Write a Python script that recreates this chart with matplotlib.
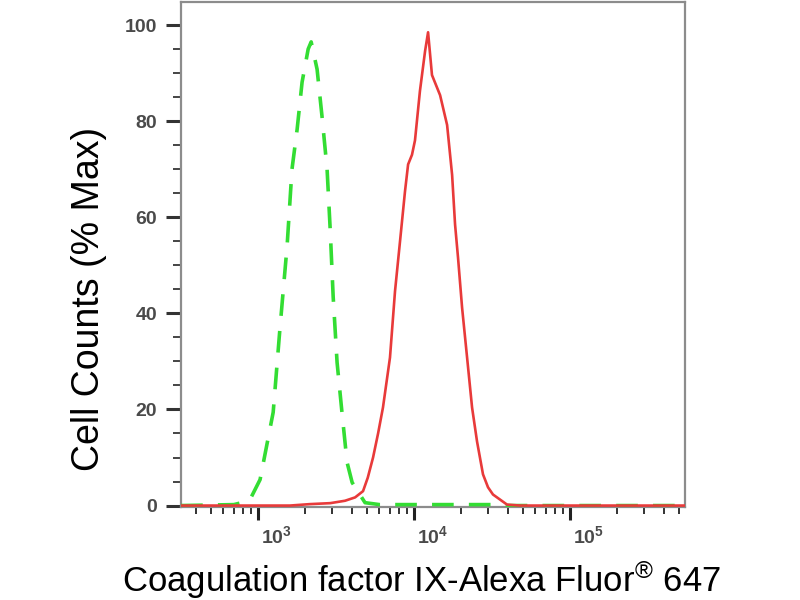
import matplotlib
matplotlib.use("Agg")
import matplotlib.pyplot as plt
import matplotlib.transforms as mtransforms
from matplotlib.ticker import LogLocator, NullFormatter, LogFormatterMathtext, MultipleLocator

plt.rcParams['font.family'] = ['Liberation Sans', 'DejaVu Sans']
plt.rcParams['mathtext.fontset'] = 'custom'
plt.rcParams['mathtext.rm'] = 'Liberation Sans'
plt.rcParams['mathtext.it'] = 'Liberation Sans:italic'
plt.rcParams['mathtext.bf'] = 'Liberation Sans:bold'
plt.rcParams['mathtext.default'] = 'regular'

TICK_FAMILY = ['Liberation Sans Narrow', 'Liberation Sans', 'DejaVu Sans']

# Isotype control (green dashed)
iso_x = [321, 700, 880, 942, 1030, 1250, 1380, 1535, 1650, 1780, 1915, 2095, 2190,
         2390, 2570, 2770, 2900, 3030, 3210, 3450, 3720, 4010, 4850, 6000, 31600, 40000, 545800]
iso_y = [0, 0.2, 1.0, 2.9, 5.4, 19.4, 36.7, 54, 70, 78.3, 88.1, 95, 96.5,
         90.8, 81, 70, 57.5, 43.5, 29.8, 19.4, 9, 4.8, 0.6, 0.2, 0.2, 0, 0]

# Coagulation factor IX stained (red)
pos_x = [321, 1600, 2150, 2900, 3610, 4190, 4710, 5050, 5460, 5880, 6320, 7010, 7550, 8130, 8750,
         9160, 9700, 10140, 10910, 11770, 12300, 13030, 14690, 16290, 17540, 18320,
         19140, 20320, 21880, 23550, 25350, 27670, 29800, 32060, 39450, 47750, 545800]
pos_y = [0, 0, 0.3, 0.5, 1.0, 1.7, 3.0, 5.8, 10, 15, 20.4, 30.8, 44.6, 55, 65.4,
         71, 73, 76, 86.3, 94.6, 98.5, 89.6, 85.4, 79.2, 68.8, 58.5,
         51.6, 41.2, 30.8, 20.4, 13.3, 6.5, 3.8, 2.3, 0.2, 0, 0]

y_ticks = [0, 20, 40, 60, 80, 100]
x_label = r'Coagulation factor IX-Alexa Fluor$^{®}$ 647'
y_label = 'Cell Counts (% Max)'

fig = plt.figure(figsize=(8, 6), dpi=100)
ax = fig.add_axes([181/800, 1-507/600, 504/800, 505/600])

ax.plot(iso_x, iso_y, color='#33dd33', lw=2.6, dashes=(6.0, 4.2), zorder=3,
        dash_capstyle='butt')
ax.plot(pos_x, pos_y, color='#e83a3a', lw=1.9, zorder=4)

ax.set_xscale('log')
ax.set_xlim(320.6, 545800)
ax.set_ylim(-0.3, 104.8)

ax.xaxis.set_major_locator(LogLocator(base=10, numticks=10))
ax.xaxis.set_minor_locator(LogLocator(base=10, subs=range(2, 10), numticks=20))
ax.xaxis.set_major_formatter(LogFormatterMathtext())
ax.xaxis.set_minor_formatter(NullFormatter())
ax.set_yticks(y_ticks)
ax.yaxis.set_minor_locator(MultipleLocator(5))

for s in ax.spines.values():
    s.set_color('#8c8c8c')
    s.set_linewidth(1.6)

ax.tick_params(axis='y', which='major', length=10.8, width=2.2, color='#333333',
               labelsize=14, labelcolor='#4a4a4a', pad=6.5)
ax.tick_params(axis='y', which='minor', length=5.5, width=1.4, color='#444444')
ax.tick_params(axis='x', which='major', length=9.4, width=2.2, color='#222222',
               labelsize=14, labelcolor='#4a4a4a', pad=3.5)
ax.tick_params(axis='x', which='minor', length=5, width=1.4, color='#333333')

fig.canvas.draw()
offset = mtransforms.ScaledTranslation(2/72, 0, fig.dpi_scale_trans)
for lab in ax.get_yticklabels():
    lab.set_family(TICK_FAMILY)
    lab.set_weight('bold')
for lab in ax.get_xticklabels():
    lab.set_family(TICK_FAMILY)
    lab.set_weight('bold')
    lab.set_ha('left')
    lab.set_transform(lab.get_transform() + offset)

fig.text(421/800, 1-580/600, x_label, fontsize=25, ha='center', va='center', color='black')
fig.text(89/800, 1-299/600, y_label, fontsize=27, rotation=90, ha='center', va='center', color='black')

fig.savefig('out.png', dpi=100)
